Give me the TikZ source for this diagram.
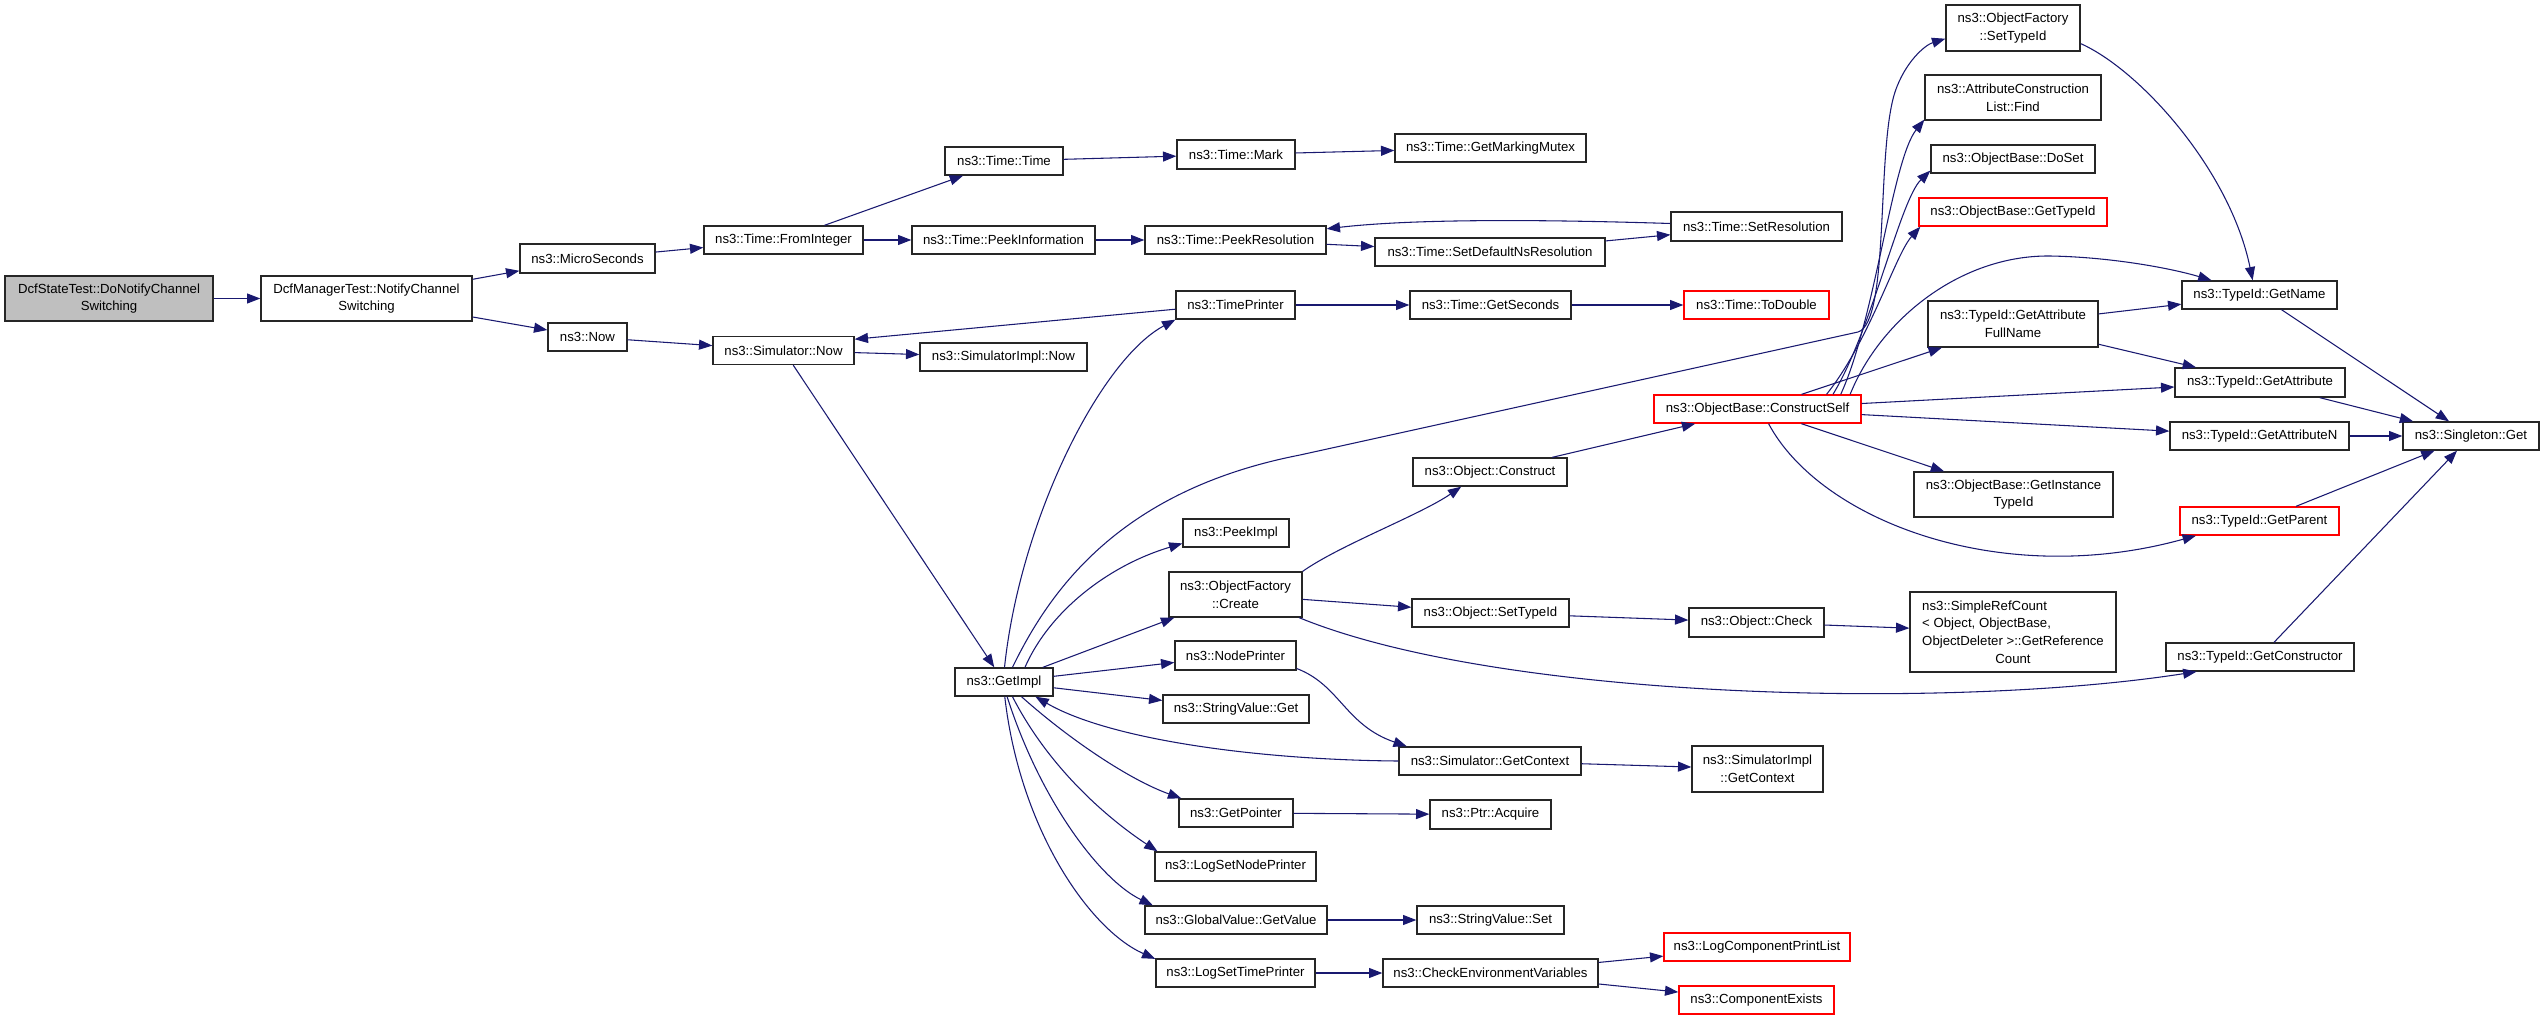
\documentclass[tikz,border=0pt]{standalone}
\usepackage{fontspec}
\setmainfont{Liberation Sans}
\usetikzlibrary{arrows.meta}
\definecolor{eblue}{HTML}{191970}
\definecolor{gfill}{HTML}{BFBFBF}
\tikzset{
  fn/.style={draw=black!85, line width=1pt, fill=white, inner sep=0pt, align=center,
    font=\fontsize{9.9}{13.2}\selectfont},
  rfn/.style={fn, draw=red},
  wh/.style 2 args={minimum width=#1*0.75pt, minimum height=#2*0.75pt},
  conn/.style={draw=eblue, line width=0.8pt, -{Triangle[length=10pt,width=7.5pt]}}
}
\newlength{\refw}
\begin{document}
\settowidth{\refw}{\fontsize{9.9}{13.2}\selectfont ObjectDeleter >::GetReference}%
\begin{tikzpicture}[x=0.75pt,y=-0.75pt]
\useasboundingbox (0,0) rectangle (2544,1020);
% nodes
\node[fn, fill=gfill, wh={208}{45}] (dst) at (109,298.5) {DcfStateTest::DoNotifyChannel\\Switching};
\node[fn, wh={211}{45}] (dmt) at (366.5,298.5) {DcfManagerTest::NotifyChannel\\Switching};
\node[fn, wh={135}{29}] (micro) at (587.5,258.5) {ns3::MicroSeconds};
\node[fn, wh={79}{28}] (now) at (587.5,337) {ns3::Now};
\node[fn, wh={159}{28}] (fromint) at (783.5,240) {ns3::Time::FromInteger};
\node[fn, wh={141}{28}] (simnow) at (783.5,350.5) {ns3::Simulator::Now};
\node[fn, wh={118}{28}] (ttime) at (1004,161) {ns3::Time::Time};
\node[fn, wh={183}{28}] (peekinfo) at (1003.5,240) {ns3::Time::PeekInformation};
\node[fn, wh={167}{28}] (simimplnow) at (1003.5,357) {ns3::SimulatorImpl::Now};
\node[fn, wh={98}{28}] (getimpl) at (1004,682) {ns3::GetImpl};
\node[fn, wh={118}{29}] (mark) at (1236,154.5) {ns3::Time::Mark};
\node[fn, wh={181}{28}] (peekres) at (1235.5,240) {ns3::Time::PeekResolution};
\node[fn, wh={119}{28}] (timeprinter) at (1235.5,305) {ns3::TimePrinter};
\node[fn, wh={106}{28}] (peekimpl) at (1236,533) {ns3::PeekImpl};
\node[fn, wh={133}{45}] (ofcreate) at (1235.5,594.5) {ns3::ObjectFactory\\::Create};
\node[fn, wh={121}{29}] (nodeprinter) at (1235.5,655.5) {ns3::NodePrinter};
\node[fn, wh={146}{28}] (svget) at (1236,709) {ns3::StringValue::Get};
\node[fn, wh={114}{28}] (getpointer) at (1236,813) {ns3::GetPointer};
\node[fn, wh={161}{29}] (logsetnode) at (1235.5,866.5) {ns3::LogSetNodePrinter};
\node[fn, wh={182}{28}] (gvgetvalue) at (1236,920) {ns3::GlobalValue::GetValue};
\node[fn, wh={159}{28}] (logsettime) at (1235.5,973) {ns3::LogSetTimePrinter};
\node[fn, wh={191}{28}] (markmutex) at (1490.5,148) {ns3::Time::GetMarkingMutex};
\node[fn, wh={230}{28}] (setdefns) at (1490,252) {ns3::Time::SetDefaultNsResolution};
\node[fn, wh={161}{28}] (getseconds) at (1490.5,305) {ns3::Time::GetSeconds};
\node[fn, wh={154}{28}] (objconstruct) at (1490,472) {ns3::Object::Construct};
\node[fn, wh={157}{28}] (objsettypeid) at (1490.5,613) {ns3::Object::SetTypeId};
\node[fn, wh={182}{28}] (simgetcontext) at (1490,761) {ns3::Simulator::GetContext};
\node[fn, wh={121}{29}] (ptracquire) at (1490.5,814.5) {ns3::Ptr::Acquire};
\node[fn, wh={147}{28}] (svset) at (1490.5,920) {ns3::StringValue::Set};
\node[fn, wh={215}{28}] (checkenv) at (1490.5,973) {ns3::CheckEnvironmentVariables};
\node[fn, wh={171}{29}] (setres) at (1756.5,226.5) {ns3::Time::SetResolution};
\node[rfn, wh={145}{28}] (todouble) at (1756.5,305) {ns3::Time::ToDouble};
\node[rfn, wh={207}{28}] (constructself) at (1757.5,409) {ns3::ObjectBase::ConstructSelf};
\node[fn, wh={135}{29}] (objcheck) at (1756.5,622.5) {ns3::Object::Check};
\node[fn, wh={131}{46}] (simimplgetcontext) at (1757.5,769) {ns3::SimulatorImpl\\::GetContext};
\node[rfn, wh={186}{28}] (logcomplist) at (1757,947) {ns3::LogComponentPrintList};
\node[rfn, wh={155}{28}] (compexists) at (1756.5,1000) {ns3::ComponentExists};
\node[fn, wh={134}{46}] (ofsettypeid) at (2013,28) {ns3::ObjectFactory\\::SetTypeId};
\node[fn, wh={176}{45}] (acfind) at (2013,97.5) {ns3::AttributeConstruction\\List::Find};
\node[fn, wh={164}{28}] (obdoset) at (2013,159) {ns3::ObjectBase::DoSet};
\node[rfn, wh={188}{28}] (obgettypeid) at (2013,212) {ns3::ObjectBase::GetTypeId};
\node[fn, wh={170}{46}] (getattrfull) at (2013,324) {ns3::TypeId::GetAttribute\\FullName};
\node[fn, wh={199}{45}] (getinsttypeid) at (2013.5,494.5) {ns3::ObjectBase::GetInstance\\TypeId};
\node[fn, wh={206}{80}] (simplerefcount) at (2013,632) {\makebox[\refw][l]{ns3::SimpleRefCount}\\\makebox[\refw][l]{< Object, ObjectBase,}\\ObjectDeleter >::GetReference\\Count};
\node[fn, wh={155}{28}] (getname) at (2259.5,295) {ns3::TypeId::GetName};
\node[fn, wh={170}{29}] (getattr) at (2260,382.5) {ns3::TypeId::GetAttribute};
\node[fn, wh={179}{28}] (getattrn) at (2259.5,436) {ns3::TypeId::GetAttributeN};
\node[rfn, wh={159}{28}] (getparent) at (2259.5,521) {ns3::TypeId::GetParent};
\node[fn, wh={188}{28}] (getconstructor) at (2260,657) {ns3::TypeId::GetConstructor};
\node[fn, wh={136}{28}] (singleton) at (2471,436) {ns3::Singleton::Get};
% connectors
\draw[conn] (dst) -- (dmt);
\draw[conn] (dmt) -- (micro);
\draw[conn] (dmt) -- (now);
\draw[conn] (micro) -- (fromint);
\draw[conn] (now) -- (simnow);
\draw[conn] (fromint) -- (ttime);
\draw[conn] (fromint) -- (peekinfo);
\draw[conn] (ttime) -- (mark);
\draw[conn] (mark) -- (markmutex);
\draw[conn] (peekinfo) -- (peekres);
\draw[conn] (peekres) -- (setdefns);
\draw[conn] (setdefns) -- (setres);
\draw[conn] (setres.178) .. controls (1560,220) and (1420,218) .. (peekres.7);
\draw[conn] (simnow) -- (simimplnow);
\draw[conn] (simnow) -- (getimpl);
\draw[conn] (timeprinter.184) -- (simnow.9);
\draw[conn] (timeprinter) -- (getseconds);
\draw[conn] (getseconds) -- (todouble);
\draw[conn] (getimpl.88) .. controls (1020,520) and (1100,360) .. (timeprinter.south west);
\draw[conn] (getimpl.60) .. controls (1050,590) and (1120,490) .. (1300,455) -- (1858,332) .. controls (1890,322) and (1876,150) .. (1895,92) .. controls (1905,62) and (1925,45) .. (ofsettypeid.189);
\draw[conn] (getimpl.35) .. controls (1050,610) and (1110,565) .. (peekimpl.191);
\draw[conn] (getimpl) -- (ofcreate);
\draw[conn] (getimpl) -- (nodeprinter);
\draw[conn] (getimpl) -- (svget);
\draw[conn] (simgetcontext.west) .. controls (1260,760) and (1110,740) .. (getimpl.-25);
\draw[conn] (nodeprinter.-12) .. controls (1340,685) and (1345,725) .. (simgetcontext.170);
\draw[conn] (simgetcontext) -- (simimplgetcontext);
\draw[conn] (getimpl.-40) .. controls (1070,740) and (1130,780) .. (getpointer.165);
\draw[conn] (getimpl.-60) .. controls (1050,770) and (1110,820) .. (logsetnode.169);
\draw[conn] (getimpl.-78) .. controls (1040,800) and (1100,880) .. (gvgetvalue.170);
\draw[conn] (getimpl.-87) .. controls (1020,830) and (1090,930) .. (logsettime.170);
\draw[conn] (getpointer) -- (ptracquire);
\draw[conn] (gvgetvalue) -- (svset);
\draw[conn] (logsettime) -- (checkenv);
\draw[conn] (checkenv) -- (logcomplist);
\draw[conn] (checkenv) -- (compexists);
\draw[conn] (ofcreate.north east) .. controls (1340,545) and (1420,515) .. (objconstruct.207);
\draw[conn] (ofcreate) -- (objsettypeid);
\draw[conn] (ofcreate.-20) .. controls (1500,700) and (1950,710) .. (getconstructor.193);
\draw[conn] (objconstruct) -- (constructself);
\draw[conn] (objsettypeid) -- (objcheck);
\draw[conn] (objcheck) -- (simplerefcount);
\draw[conn] (constructself.-53) .. controls (1820,520) and (2000,590) .. (getparent.193);
\draw[conn] (constructself) -- (getinsttypeid);
\draw[conn] (constructself) -- (getattrn);
\draw[conn] (constructself) -- (getattr);
\draw[conn] (constructself) -- (getattrfull);
\draw[conn] (constructself.9) .. controls (1880,320) and (1960,255) .. (2050,256) .. controls (2110,257) and (2170,268) .. (getname.163);
\draw[conn] (constructself.10) .. controls (1875,320) and (1892,160) .. (acfind.194);
\draw[conn] (constructself.11) .. controls (1872,330) and (1900,200) .. (obdoset.188);
\draw[conn] (constructself.12) .. controls (1870,340) and (1895,255) .. (obgettypeid.189);
\draw[conn] (ofsettypeid.-13) .. controls (2140,70) and (2230,170) .. (getname.115);
\draw[conn] (getattrfull) -- (getname);
\draw[conn] (getattrfull) -- (getattr);
\draw[conn] (getname) -- (singleton);
\draw[conn] (getattr) -- (singleton);
\draw[conn] (getattrn) -- (singleton);
\draw[conn] (getparent) -- (singleton);
\draw[conn] (getconstructor) -- (singleton);
\end{tikzpicture}
\end{document}
